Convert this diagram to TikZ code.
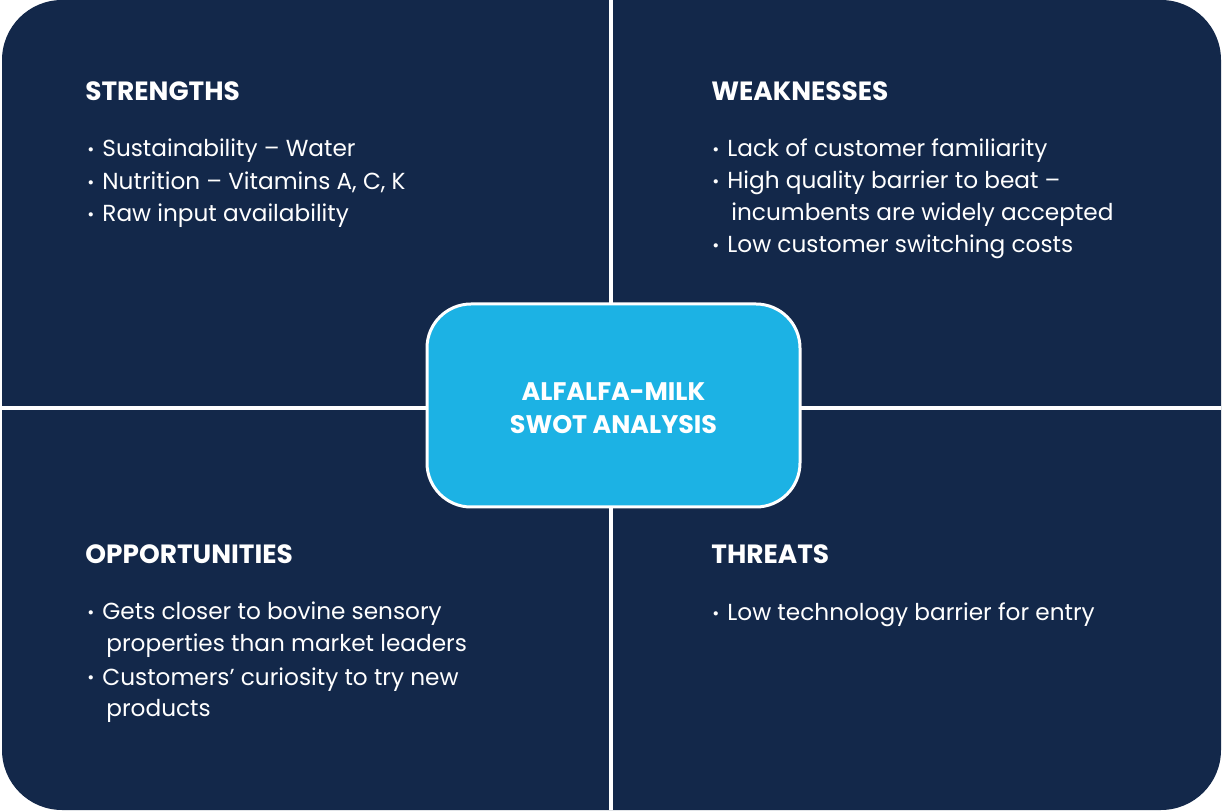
\documentclass[tikz,border=0pt]{standalone}
\usepackage{fontspec}
\setmainfont{Poppins}[Ligatures=NoCommon]
\usetikzlibrary{positioning}

\definecolor{swotnavy}{HTML}{13284A}
\definecolor{swotcyan}{HTML}{1CB2E4}
\newcommand{\swotdot}{\raisebox{0.6pt}{\fontsize{8.5}{8}\selectfont •}\hspace{4pt}}

\begin{document}
\begin{tikzpicture}[x=0.5pt, y=-0.5pt,
	heading/.style={anchor=base west, inner sep=0pt, text=white, font=\fontsize{13.2}{14}\selectfont\bfseries},
	item/.style={anchor=base west, inner sep=0pt, text=white, font=\fontsize{11.6}{14}\selectfont}]
\useasboundingbox (0, 0) rectangle (1222, 812);

\fill[swotnavy, rounded corners=30pt] (2, 0) rectangle (1221, 810);
\draw[white, line width=2pt] (611, 0) -- (611, 810);
\draw[white, line width=2pt] (2, 408) -- (1221, 408);

\node[draw=white, line width=1.5pt, fill=swotcyan, rounded corners=22pt,
	minimum width=186.5pt, minimum height=101.5pt] (swot) at (613.5, 405.5) {};
\node[align=center, text=white, font=\fontsize{12.7}{16.5}\selectfont\bfseries]
	(swottext) at (613.5, 408.5) {ALFALFA-MILK\\SWOT ANALYSIS};

\node[heading] (s) at (85, 101) {STRENGTHS};
\node[item] (s1) at (87, 157) {\swotdot Sustainability – Water};
\node[item] (s2) at (87, 189.5) {\swotdot Nutrition – Vitamins A, C, K};
\node[item] (s3) at (87, 222) {\swotdot Raw input availability};

\node[heading] (w) at (711, 101) {WEAKNESSES};
\node[item] (w1) at (712, 157) {\swotdot Lack of customer familiarity};
\node[item] (w2) at (712, 189) {\swotdot High quality barrier to beat –};
\node[item] (w3) at (731, 221) {incumbents are widely accepted};
\node[item] (w4) at (712, 253) {\swotdot Low customer switching costs};

\node[heading] (o) at (85, 564) {OPPORTUNITIES};
\node[item] (o1) at (87, 620) {\swotdot Gets closer to bovine sensory};
\node[item] (o2) at (106, 652) {properties than market leaders};
\node[item] (o3) at (87, 685) {\swotdot Customers’ curiosity to try new};
\node[item] (o4) at (106, 717) {products};

\node[heading] (t) at (711, 564) {THREATS};
\node[item] (t1) at (712, 621) {\swotdot Low technology barrier for entry};
\end{tikzpicture}
\end{document}
